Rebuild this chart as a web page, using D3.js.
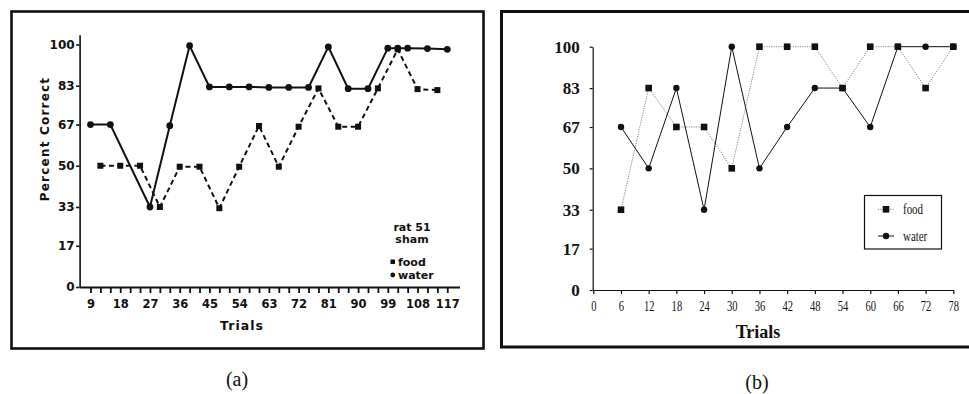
<!DOCTYPE html>
<html>
<head>
<meta charset="utf-8">
<script src="https://cdn.jsdelivr.net/npm/d3@7"></script>
<style>
  html, body { margin: 0; padding: 0; background: #fff; }
  svg { display: block; }
</style>
</head>
<body>
<svg id="fig" width="969" height="394"></svg>
<script>
// ---- Panel (a): rat 51, sham ----
const aFoodTrials  = [12, 18, 24, 30, 36, 42, 48, 54, 60, 66, 72, 78, 84, 90, 96, 102, 108, 114];
const aFoodValues  = [50, 50, 50, 33, 49.6, 49.6, 32.5, 49.6, 66.4, 49.6, 66.1, 81.9, 66.1, 66.1, 81.9, 98, 81.6, 81.2];
const aWaterTrials = [9, 15, 27, 33, 39, 45, 51, 57, 63, 69, 75, 81, 87, 93, 99, 102, 105, 111, 117];
const aWaterValues = [67, 67, 33, 66.5, 99.5, 82.5, 82.5, 82.5, 82.3, 82.3, 82.3, 99, 81.8, 81.8, 98.5, 98.5, 98.5, 98.3, 98];
const aXTicks = d3.range(9, 118, 3);          // minor ticks every 3 trials
const aXLabels = d3.range(9, 118, 9);         // labelled every 9 trials
const aYTicks = [0, 17, 33, 50, 67, 83, 100];

// ---- Panel (b) ----
const bTrials = [6, 12, 18, 24, 30, 36, 42, 48, 54, 60, 66, 72, 78];
const bFoodValues  = [33, 83, 67, 67, 50, 100, 100, 100, 83, 100, 100, 83, 100];
const bWaterValues = [67, 50, 83, 33, 100, 50, 67, 83, 83, 67, 100, 100, 100];
const bXTicks = d3.range(0, 79, 6);
const bYTicks = [0, 17, 33, 50, 67, 83, 100];

const svg = d3.select("#fig");
svg.append("rect").attr("width", 969).attr("height", 394).attr("fill", "#fff");

// ================= Panel (a) =================
const A = svg.append("g");
A.append("rect").attr("x", 11.5).attr("y", 11.5).attr("width", 472).attr("height", 337)
  .attr("fill", "none").attr("stroke", "#111").attr("stroke-width", 2.6);

const ax = d3.scaleLinear().domain([5.7, 120.7]).range([79.6, 459.5]);
const ay = d3.scaleLinear().domain([0, 104]).range([287, 34.8]);
const aFont = "'DejaVu Sans', Verdana, sans-serif";

const aXAxis = A.append("g").attr("transform", "translate(0,287)")
  .call(d3.axisBottom(ax).tickValues(aXTicks).tickSize(6).tickSizeOuter(0)
    .tickFormat(d => aXLabels.includes(d) ? d : ""));
aXAxis.selectAll("path, line").attr("stroke", "#111").attr("stroke-width", 1.8);
aXAxis.selectAll("text").attr("font-family", aFont).attr("font-weight", "bold")
  .attr("font-size", 11.5).attr("fill", "#111").attr("y", 13).attr("dy", "0.71em");

const aYAxis = A.append("g").attr("transform", "translate(79.6,0)")
  .call(d3.axisLeft(ay).tickValues(aYTicks).tickSize(3.5).tickPadding(1.5).tickSizeOuter(0));
aYAxis.selectAll("path, line").attr("stroke", "#111").attr("stroke-width", 1.6);
aYAxis.selectAll("text").attr("font-family", aFont).attr("font-weight", "bold")
  .attr("font-size", 12).attr("fill", "#111");

A.append("text").attr("transform", "translate(49,139) rotate(-90)")
  .attr("text-anchor", "middle").attr("font-family", aFont).attr("font-weight", "bold")
  .attr("font-size", 12).attr("letter-spacing", 1.2).attr("fill", "#111").text("Percent Correct");
A.append("text").attr("x", 242).attr("y", 330).attr("text-anchor", "middle")
  .attr("font-family", aFont).attr("font-weight", "bold").attr("font-size", 12.5)
  .attr("letter-spacing", 1).attr("fill", "#111").text("Trials");

const aLine = (xs) => d3.line().x((d, i) => ax(xs[i])).y(d => ay(d));
A.append("path").datum(aFoodValues).attr("d", aLine(aFoodTrials))
  .attr("fill", "none").attr("stroke", "#111").attr("stroke-width", 2)
  .attr("stroke-dasharray", "5,3.5");
A.append("path").datum(aWaterValues).attr("d", aLine(aWaterTrials))
  .attr("fill", "none").attr("stroke", "#111").attr("stroke-width", 2);
A.selectAll(".af").data(aFoodValues).join("rect")
  .attr("x", (d, i) => ax(aFoodTrials[i]) - 3).attr("y", d => ay(d) - 3)
  .attr("width", 6).attr("height", 6).attr("fill", "#111");
A.selectAll(".aw").data(aWaterValues).join("circle")
  .attr("cx", (d, i) => ax(aWaterTrials[i])).attr("cy", d => ay(d))
  .attr("r", 3.4).attr("fill", "#111");

// annotation and legend
const aLeg = A.append("g").attr("font-family", aFont).attr("font-weight", "bold")
  .attr("font-size", 11).attr("fill", "#111");
const note = aLeg.append("text").attr("text-anchor", "middle");
note.append("tspan").attr("x", 412).attr("y", 230.5).text("rat 51");
note.append("tspan").attr("x", 412).attr("y", 242.5).text("sham");
aLeg.append("rect").attr("x", 390.5).attr("y", 259.5).attr("width", 4.5).attr("height", 4.5);
aLeg.append("text").attr("x", 398).attr("y", 266).text("food");
aLeg.append("circle").attr("cx", 392.8).attr("cy", 275).attr("r", 2.4);
aLeg.append("text").attr("x", 398).attr("y", 279).text("water");

svg.append("text").attr("x", 237).attr("y", 386).attr("text-anchor", "middle")
  .attr("font-family", "'Liberation Serif', 'Times New Roman', serif")
  .attr("font-size", 20).attr("fill", "#111").text("(a)");

// ================= Panel (b) =================
const B = svg.append("g");
B.append("rect").attr("x", 501.5).attr("y", 11.5).attr("width", 480).attr("height", 335.5)
  .attr("fill", "none").attr("stroke", "#111").attr("stroke-width", 3);

const bx = d3.scaleLinear().domain([0, 78]).range([593.3, 953.3]);
const by = d3.scaleLinear().domain([0, 100]).range([290, 46.7]);
const serif = "'Liberation Serif', 'Times New Roman', serif";

const bXAxis = B.append("g").attr("transform", "translate(0,290)")
  .call(d3.axisBottom(bx).tickValues(bXTicks).tickSize(4).tickSizeOuter(0));
bXAxis.selectAll("path, line").attr("stroke", "#111").attr("stroke-width", 1.2);
// narrow serif tick labels under the axis
bXAxis.selectAll("text").attr("font-family", serif).attr("font-size", 15.5)
  .attr("fill", "#111").attr("y", 0).attr("dy", 0)
  .attr("transform", "translate(0,20.5) scale(0.68,1)");

const bYAxis = B.append("g").attr("transform", "translate(592.7,0)")
  .call(d3.axisLeft(by).tickValues(bYTicks).tickSize(3).tickPadding(10).tickSizeOuter(0));
bYAxis.selectAll("path, line").attr("stroke", "#111").attr("stroke-width", 1.2);
bYAxis.selectAll("text").attr("font-family", serif).attr("font-weight", "bold")
  .attr("font-size", 17).attr("fill", "#111");

B.append("text").attr("x", 758).attr("y", 338).attr("text-anchor", "middle")
  .attr("font-family", serif).attr("font-weight", "bold").attr("font-size", 18)
  .attr("fill", "#111").text("Trials");

const bLine = d3.line().x((d, i) => bx(bTrials[i])).y(d => by(d));
B.append("path").datum(bFoodValues).attr("d", bLine)
  .attr("fill", "none").attr("stroke", "#888").attr("stroke-width", 1)
  .attr("stroke-dasharray", "1.2,1.2");
B.append("path").datum(bWaterValues).attr("d", bLine)
  .attr("fill", "none").attr("stroke", "#111").attr("stroke-width", 1);
B.selectAll(".bw").data(bWaterValues).join("circle")
  .attr("cx", (d, i) => bx(bTrials[i])).attr("cy", d => by(d))
  .attr("r", 3.2).attr("fill", "#111");
B.selectAll(".bf").data(bFoodValues).join("rect")
  .attr("x", (d, i) => bx(bTrials[i]) - 3.3).attr("y", d => by(d) - 3.3)
  .attr("width", 6.6).attr("height", 6.6).attr("fill", "#111");

// legend box
const bLeg = B.append("g");
bLeg.append("rect").attr("x", 864.5).attr("y", 195.5).attr("width", 77).attr("height", 53.5)
  .attr("fill", "#fff").attr("stroke", "#111").attr("stroke-width", 1.2);
bLeg.append("line").attr("x1", 878).attr("x2", 894).attr("y1", 209.3).attr("y2", 209.3)
  .attr("stroke", "#888").attr("stroke-dasharray", "1.2,1.2");
bLeg.append("rect").attr("x", 882.7).attr("y", 206).attr("width", 6.6).attr("height", 6.6).attr("fill", "#111");
bLeg.append("line").attr("x1", 878).attr("x2", 894).attr("y1", 236).attr("y2", 236)
  .attr("stroke", "#111");
bLeg.append("circle").attr("cx", 886).attr("cy", 236).attr("r", 3.2).attr("fill", "#111");
bLeg.append("text").attr("transform", "translate(903,213.5) scale(0.78,1)")
  .attr("font-family", serif).attr("font-size", 14).attr("fill", "#111").text("food");
bLeg.append("text").attr("transform", "translate(903,240.5) scale(0.78,1)")
  .attr("font-family", serif).attr("font-size", 14).attr("fill", "#111").text("water");

svg.append("text").attr("x", 757).attr("y", 389).attr("text-anchor", "middle")
  .attr("font-family", serif).attr("font-size", 20).attr("fill", "#111").text("(b)");
</script>
</body>
</html>
